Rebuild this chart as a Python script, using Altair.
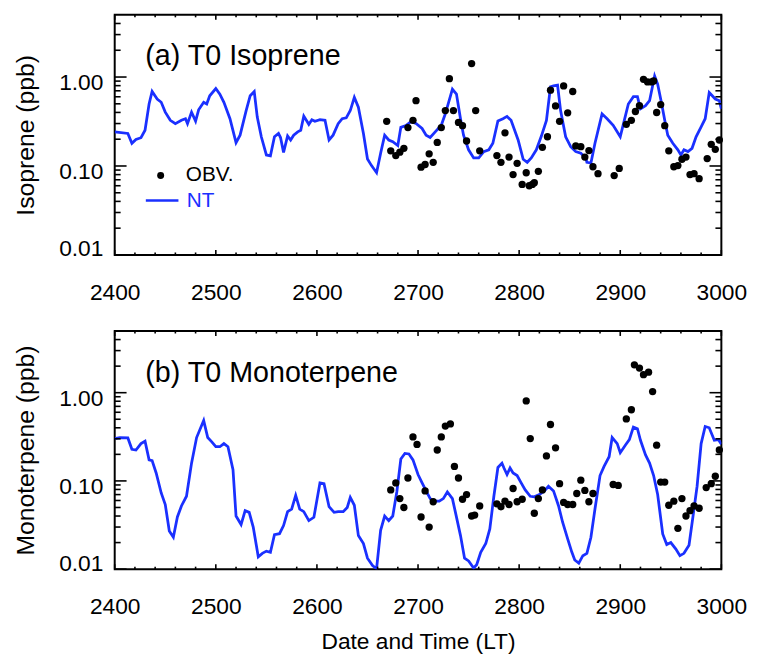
import altair as alt
import pandas as pd

FONT = "Liberation Sans"
BLUE = "#1a30ff"
W = 614

# axis ticks
x_major = [2400, 2500, 2600, 2700, 2800, 2900, 3000]
x_minor = [v for v in range(2400, 3001, 20) if v % 100]
y_major = [0.01, 0.1, 1.0]
y_minor = [round(m * d, 3) for d in (0.01, 0.1, 1.0) for m in range(2, 10) if m * d < 5]

# (a) isoprene, model NT
iso_nt_x = [2400, 2413, 2417, 2421, 2426, 2430, 2434, 2437, 2442, 2446, 2450, 2455, 2460, 2466,
            2470, 2472, 2476, 2480, 2483, 2488, 2491, 2494, 2500, 2504, 2508, 2514, 2520, 2524,
            2530, 2534, 2538, 2541, 2545, 2550, 2554, 2558, 2562, 2564, 2567, 2571, 2574, 2577,
            2581, 2584, 2587, 2592, 2595, 2598, 2603, 2608, 2612, 2616, 2621, 2625, 2629, 2633,
            2637, 2641, 2646, 2650, 2654, 2659, 2663, 2667, 2671, 2675, 2680, 2683, 2688, 2693,
            2698, 2704, 2708, 2712, 2717, 2723, 2727, 2734, 2738, 2742, 2745, 2750, 2755, 2760,
            2765, 2770, 2774, 2779, 2784, 2788, 2792, 2799, 2804, 2808, 2812, 2817, 2822, 2827,
            2831, 2834, 2838, 2841, 2846, 2851, 2856, 2861, 2866, 2867, 2871, 2875, 2882, 2887,
            2893, 2900, 2904, 2908, 2913, 2917, 2920, 2925, 2929, 2934, 2937, 2941, 2944, 2947,
            2952, 2957, 2960, 2963, 2967, 2971, 2975, 2980, 2984, 2988, 2991, 2994, 2998, 3000]
iso_nt_y = [0.242, 0.232, 0.180, 0.199, 0.208, 0.252, 0.497, 0.688, 0.566, 0.520, 0.403, 0.326,
            0.299, 0.326, 0.340, 0.299, 0.403, 0.320, 0.428, 0.520, 0.498, 0.616, 0.743, 0.643,
            0.520, 0.340, 0.183, 0.222, 0.420, 0.616, 0.688, 0.355, 0.213, 0.133, 0.130, 0.213,
            0.232, 0.209, 0.142, 0.218, 0.196, 0.222, 0.242, 0.252, 0.364, 0.294, 0.331, 0.318,
            0.331, 0.326, 0.196, 0.222, 0.299, 0.340, 0.348, 0.420, 0.590, 0.458, 0.232, 0.120,
            0.101, 0.084, 0.139, 0.222, 0.196, 0.188, 0.170, 0.272, 0.285, 0.315, 0.300, 0.264,
            0.222, 0.209, 0.242, 0.287, 0.386, 0.730, 0.643, 0.340, 0.222, 0.152, 0.123, 0.123,
            0.145, 0.152, 0.180, 0.320, 0.340, 0.361, 0.326, 0.196, 0.119, 0.110, 0.123, 0.152,
            0.217, 0.326, 0.775, 0.795, 0.809, 0.420, 0.213, 0.165, 0.145, 0.139, 0.123, 0.110,
            0.108, 0.180, 0.386, 0.340, 0.287, 0.213, 0.326, 0.498, 0.601, 0.601, 0.439, 0.477,
            0.542, 1.026, 0.830, 0.498, 0.326, 0.222, 0.180, 0.152, 0.133, 0.152, 0.145, 0.158,
            0.213, 0.275, 0.340, 0.671, 0.616, 0.566, 0.542, 0.439]

# (a) isoprene, observations
iso_obs_x = [2669, 2673, 2678, 2682, 2686, 2690, 2695, 2698, 2703, 2707, 2711, 2715, 2719, 2723,
             2727, 2731, 2735, 2740, 2744, 2748, 2753, 2757, 2761, 2778, 2782, 2786, 2790, 2794,
             2798, 2803, 2807, 2810, 2813, 2815, 2819, 2823, 2828, 2831, 2836, 2840, 2844, 2848,
             2853, 2856, 2861, 2865, 2869, 2873, 2878, 2894, 2899, 2906, 2911, 2915, 2919, 2923,
             2927, 2931, 2933, 2936, 2940, 2944, 2948, 2953, 2957, 2961, 2965, 2969, 2973, 2978,
             2986, 2990, 2994, 2998]
iso_obs_y = [0.318, 0.148, 0.131, 0.143, 0.158, 0.270, 0.326, 0.542, 0.097, 0.104, 0.137, 0.110,
             0.184, 0.270, 0.420, 0.959, 0.420, 0.309, 0.284, 0.191, 1.416, 0.420, 0.148, 0.131,
             0.110, 0.236, 0.126, 0.080, 0.107, 0.062, 0.084, 0.060, 0.062, 0.065, 0.087, 0.162,
             0.213, 0.711, 0.473, 0.318, 0.795, 0.396, 0.688, 0.168, 0.165, 0.126, 0.149, 0.098,
             0.082, 0.078, 0.094, 0.294, 0.326, 0.410, 0.477, 0.942, 0.881, 0.881, 0.903, 0.399,
             0.490, 0.284, 0.148, 0.098, 0.101, 0.119, 0.126, 0.080, 0.082, 0.072, 0.121, 0.175,
             0.154, 0.196]

# (b) monoterpene, model NT
mt_nt_x = [2400, 2405, 2413, 2417, 2421, 2426, 2430, 2434, 2437, 2441, 2446, 2450, 2454, 2458,
           2462, 2466, 2471, 2476, 2481, 2488, 2492, 2496, 2500, 2504, 2508, 2512, 2517, 2520,
           2525, 2529, 2533, 2537, 2542, 2546, 2550, 2554, 2558, 2563, 2567, 2571, 2575, 2579,
           2583, 2587, 2592, 2597, 2603, 2607, 2612, 2617, 2621, 2626, 2630, 2633, 2637, 2641,
           2646, 2650, 2655, 2659, 2663, 2667, 2671, 2675, 2679, 2683, 2687, 2691, 2695, 2700,
           2704, 2708, 2712, 2716, 2721, 2725, 2729, 2734, 2737, 2742, 2746, 2750, 2755, 2758,
           2762, 2767, 2771, 2775, 2779, 2783, 2785, 2788, 2791, 2794, 2798, 2802, 2806, 2811,
           2815, 2820, 2825, 2829, 2834, 2839, 2843, 2848, 2852, 2855, 2859, 2863, 2867, 2871,
           2875, 2880, 2884, 2889, 2892, 2897, 2900, 2905, 2909, 2913, 2917, 2920, 2925, 2929,
           2933, 2937, 2942, 2946, 2950, 2955, 2959, 2963, 2968, 2972, 2976, 2980, 2984, 2988,
           2993, 2997, 3000]
mt_nt_y = [0.302, 0.310, 0.307, 0.228, 0.224, 0.265, 0.282, 0.173, 0.170, 0.123, 0.073, 0.054,
           0.027, 0.023, 0.039, 0.052, 0.067, 0.159, 0.310, 0.483, 0.310, 0.277, 0.244, 0.244,
           0.265, 0.244, 0.134, 0.040, 0.032, 0.046, 0.044, 0.030, 0.0138, 0.0151, 0.016, 0.0155,
           0.0246, 0.0252, 0.0312, 0.0448, 0.0479, 0.0686, 0.0479, 0.0448, 0.0355, 0.0387, 0.095,
           0.093, 0.051, 0.044, 0.0448, 0.0448, 0.050, 0.065, 0.053, 0.024, 0.0195, 0.0133,
           0.011, 0.0101, 0.0275, 0.040, 0.0355, 0.040, 0.075, 0.177, 0.205, 0.202, 0.173, 0.118,
           0.095, 0.077, 0.063, 0.059, 0.059, 0.063, 0.075, 0.063, 0.044, 0.024, 0.0133, 0.0124,
           0.0103, 0.0112, 0.0155, 0.0195, 0.0286, 0.067, 0.142, 0.159, 0.140, 0.118, 0.140,
           0.123, 0.115, 0.095, 0.079, 0.067, 0.066, 0.070, 0.077, 0.087, 0.077, 0.052, 0.034,
           0.022, 0.0157, 0.0127, 0.0117, 0.0142, 0.0151, 0.023, 0.048, 0.115, 0.146, 0.188,
           0.310, 0.265, 0.209, 0.254, 0.294, 0.407, 0.390, 0.289, 0.197, 0.159, 0.115, 0.070,
           0.025, 0.019, 0.020, 0.0169, 0.0142, 0.0151, 0.0187, 0.040, 0.087, 0.265, 0.414,
           0.400, 0.289, 0.294, 0.261]

# (b) monoterpene, observations
mt_obs_x = [2673, 2678, 2682, 2686, 2690, 2695, 2699, 2703, 2707, 2711, 2715, 2719, 2723, 2727,
            2732, 2736, 2740, 2744, 2748, 2753, 2756, 2761, 2778, 2782, 2786, 2790, 2794, 2798,
            2803, 2807, 2811, 2815, 2819, 2823, 2827, 2831, 2836, 2840, 2844, 2848, 2853, 2857,
            2861, 2865, 2869, 2873, 2893, 2898, 2906, 2911, 2914, 2919, 2923, 2928, 2932, 2936,
            2940, 2944, 2948, 2953, 2957, 2961, 2965, 2969, 2973, 2978, 2985, 2990, 2994, 2998]
mt_obs_y = [0.079, 0.095, 0.063, 0.050, 0.108, 0.315, 0.259, 0.039, 0.077, 0.030, 0.058, 0.224,
            0.315, 0.418, 0.443, 0.146, 0.108, 0.062, 0.070, 0.040, 0.041, 0.052, 0.055, 0.051,
            0.059, 0.054, 0.082, 0.058, 0.062, 0.807, 0.302, 0.043, 0.063, 0.079, 0.192, 0.436,
            0.237, 0.093, 0.057, 0.054, 0.054, 0.072, 0.102, 0.078, 0.058, 0.072, 0.091, 0.089,
            0.504, 0.641, 2.07, 1.90, 1.60, 1.71, 1.03, 0.254, 0.097, 0.097, 0.053, 0.059, 0.029,
            0.063, 0.040, 0.046, 0.052, 0.049, 0.084, 0.093, 0.113, 0.224]

xs = alt.Scale(domain=[2400, 3000], nice=False, zero=False)
ys = alt.Scale(type="log", domain=[0.01, 5], nice=False)


def panel(label, ytitle, nt_x, nt_y, obs_x, obs_y, bottom, H):
    nt = pd.DataFrame({"x": nt_x, "y": nt_y, "series": "NT"})
    obs = pd.DataFrame({"x": obs_x, "y": obs_y, "series": "OBV."})

    x_axis = alt.Axis(values=x_major, format="d", ticks=False, tickSize=0, domain=False,
                      grid=False, labelFont=FONT, labelFontSize=23, labelColor="black",
                      labelPadding=27, labelOverlap=False, labelFlush=False,
                      titleFont=FONT, titleFontSize=23, titleFontWeight="normal",
                      titleColor="black", titlePadding=12)
    y_axis = alt.Axis(values=y_major, format=".2f", ticks=False, tickSize=0, domain=False,
                      grid=False, labelFont=FONT, labelFontSize=23, labelColor="black",
                      labelPadding=12, labelOffset=6, labelFlush=True, labelOverlap=False,
                      titleFont=FONT, titleFontSize=25, titleFontWeight="normal",
                      titleColor="black", titlePadding=20)

    # every layer carries the same axis spec so the shared axes merge cleanly
    xenc = alt.X("x:Q", scale=xs, axis=x_axis,
                 title="Date and Time (LT)" if bottom else None)
    yenc = alt.Y("y:Q", scale=ys, axis=y_axis, title=ytitle)

    def ticks(values, along, length, side):
        if along == "x":
            df = pd.DataFrame({"x": values})
            y0 = H if side == "bottom" else 0
            y1 = H - length if side == "bottom" else length
            enc = dict(x=xenc, y=alt.value(y0), y2=alt.value(y1))
        else:
            df = pd.DataFrame({"y": values})
            x0 = 0 if side == "left" else W
            x1 = length if side == "left" else W - length
            enc = dict(y=yenc, x=alt.value(x0), x2=alt.value(x1))
        return alt.Chart(df).mark_rule(color="black", strokeWidth=1.6).encode(**enc)

    if bottom:
        line = alt.Chart(nt).mark_line(color=BLUE, strokeWidth=2.8, clip=True).encode(
            x=xenc, y=yenc)
        pts = alt.Chart(obs).mark_circle(color="black", size=55, opacity=1).encode(
            x=xenc, y=yenc)
    else:
        line = alt.Chart(nt).mark_line(strokeWidth=2.8, clip=True).encode(
            x=xenc, y=yenc,
            color=alt.Color("series:N", scale=alt.Scale(domain=["NT"], range=[BLUE]),
                            legend=alt.Legend(orient="none", legendX=30, legendY=170,
                                              title=None, padding=0, labelFont=FONT,
                                              labelFontSize=21, labelColor=BLUE,
                                              symbolType="stroke", symbolSize=1089,
                                              symbolStrokeWidth=2.5, labelOffset=7)))
        pts = alt.Chart(obs).mark_point(filled=True, color="black", size=55, opacity=1).encode(
            x=xenc, y=yenc,
            shape=alt.Shape("series:N", scale=alt.Scale(domain=["OBV."], range=["circle"]),
                            legend=alt.Legend(orient="none", legendX=36, legendY=152,
                                              title=None, padding=0, labelFont=FONT,
                                              labelFontSize=21, labelColor="black",
                                              symbolSize=50, symbolFillColor="black",
                                              symbolStrokeWidth=0, labelOffset=15)))

    rules = [
        ticks(x_major, "x", 5, "bottom"), ticks(x_minor, "x", 2.5, "bottom"),
        ticks(x_major, "x", 5, "top"), ticks(x_minor, "x", 2.5, "top"),
        ticks(y_major, "y", 12, "left"), ticks(y_minor, "y", 6, "left"),
        ticks(y_major, "y", 12, "right"), ticks(y_minor, "y", 6, "right"),
    ]
    return alt.layer(line, *rules, pts).properties(
        width=W, height=H,
        title=alt.TitleParams(label, anchor="start", frame="group", orient="top",
                              baseline="alphabetic", offset=0, dx=31, dy=81,
                              font=FONT, fontSize=29, fontWeight="normal", color="black"))


top = panel("(a) T0 Isoprene", "Isoprene (ppb)", iso_nt_x, iso_nt_y,
            iso_obs_x, iso_obs_y, bottom=False, H=243)
bottom = panel("(b) T0 Monoterpene", "Monoterpene (ppb)", mt_nt_x, mt_nt_y,
               mt_obs_x, mt_obs_y, bottom=True, H=241)

chart = alt.vconcat(top, bottom, spacing=24).resolve_scale(
    color="independent", shape="independent"
).properties(
    padding={"left": 5, "top": 1, "right": 3, "bottom": 0}
).configure_view(stroke="black", strokeWidth=2)

chart.save("out.html", embed_options={"renderer": "svg", "actions": False})
